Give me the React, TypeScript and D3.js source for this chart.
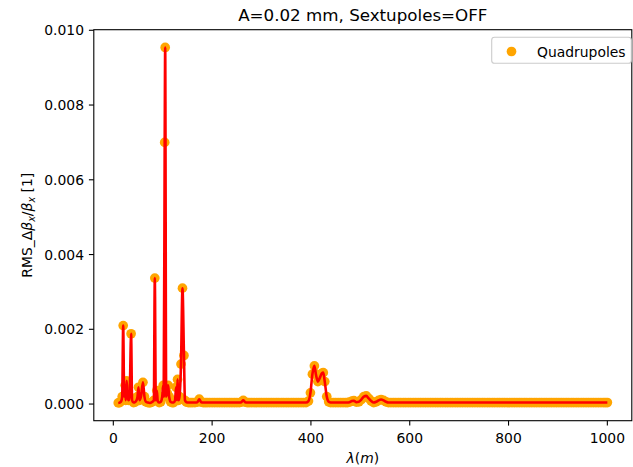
import React from "react";
import * as d3 from "d3";

const lambdas: number[] = [
  10, 13, 16, 18, 20, 22, 24, 25, 27, 29,
  31, 33, 36, 38, 41, 44, 47, 49, 51, 53,
  56, 60, 63, 66, 70, 74, 78, 82, 84, 86,
  88, 90, 93, 96, 99, 101, 102, 104, 105, 107,
  109, 111, 113, 116, 119, 122, 125, 127, 129, 130,
  132, 134, 137, 140, 143, 145, 148, 152, 156, 160,
  165, 170, 174, 178, 182, 186, 190, 195, 200, 205,
  210, 215, 220, 225, 230, 235, 240, 245, 250, 255,
  259, 263, 267, 271, 275, 280, 285, 290, 295, 300,
  305, 310, 315, 320, 325, 330, 335, 340, 345, 350,
  355, 360, 365, 370, 375, 380, 385, 390, 395, 399,
  403, 407, 410, 414, 418, 422, 425, 428, 432, 436,
  440, 445, 450, 455, 460, 465, 470, 474, 478, 483,
  487, 492, 497, 502, 507, 512, 517, 522, 527, 532,
  537, 542, 547, 552, 557, 562, 567, 572, 577, 582,
  587, 592, 597, 602, 607, 612, 617, 622, 627, 632,
  637, 642, 647, 652, 657, 662, 667, 672, 677, 682,
  687, 692, 697, 702, 707, 712, 717, 722, 727, 732,
  737, 742, 747, 752, 757, 762, 767, 772, 777, 782,
  787, 792, 797, 802, 807, 812, 817, 822, 827, 832,
  837, 842, 847, 852, 857, 862, 867, 872, 877, 882,
  887, 892, 897, 902, 907, 912, 917, 922, 927, 932,
  937, 942, 947, 952, 957, 962, 967, 972, 977, 982,
  987, 992, 996, 1000,
];

const rmsValues: number[] = [
  0.00003, 0.00004, 0.00008, 0.0002, 0.0021, 0.0002, 0.0005, 0.0001, 0.00062, 0.0002,
  0.0001, 0.0002, 0.00188, 0.0001, 0.00004, 0.00005, 0.0001, 0.0002, 0.00045, 0.0001,
  0.0002, 0.00058, 0.0002, 0.00006, 0.00004, 0.00003, 0.00005, 0.0001, 0.00337, 0.0001,
  0.00036, 0.00008, 0.00004, 0.00006, 0.0002, 0.0005, 0.0002, 0.007, 0.00954, 0.0002,
  0.0003, 0.0005, 0.0002, 0.00006, 0.00004, 0.00004, 0.0001, 0.00045, 0.0001, 0.00066,
  0.0001, 0.0002, 0.00107, 0.0031, 0.0013, 0.0001, 0.00005, 0.00004, 0.00004, 0.00004,
  0.00004, 0.00005, 0.00013, 0.00005, 0.00004, 0.00004, 0.00004, 0.00004, 0.00004, 0.00004,
  0.00004, 0.00004, 0.00004, 0.00004, 0.00004, 0.00004, 0.00004, 0.00004, 0.00004, 0.00004,
  0.00005, 0.0001, 0.00005, 0.00004, 0.00004, 0.00004, 0.00004, 0.00004, 0.00004, 0.00004,
  0.00004, 0.00004, 0.00004, 0.00004, 0.00004, 0.00004, 0.00004, 0.00004, 0.00004, 0.00004,
  0.00004, 0.00004, 0.00004, 0.00004, 0.00004, 0.00004, 0.00004, 0.00004, 0.00008, 0.0003,
  0.0008, 0.00102, 0.0008, 0.0006, 0.0007, 0.00082, 0.00084, 0.0006, 0.0002, 0.00006,
  0.00004, 0.00004, 0.00004, 0.00004, 0.00004, 0.00004, 0.00004, 0.00004, 0.00005, 0.00008,
  0.00009, 0.00005, 0.00006, 0.00012, 0.0002, 0.00022, 0.00015, 0.00008, 0.00004, 0.00006,
  0.0001, 0.00012, 0.0001, 0.00006, 0.00004, 0.00004, 0.00004, 0.00004, 0.00004, 0.00004,
  0.00004, 0.00004, 0.00004, 0.00004, 0.00004, 0.00004, 0.00004, 0.00004, 0.00004, 0.00004,
  0.00004, 0.00004, 0.00004, 0.00004, 0.00004, 0.00004, 0.00004, 0.00004, 0.00004, 0.00004,
  0.00004, 0.00004, 0.00004, 0.00004, 0.00004, 0.00004, 0.00004, 0.00004, 0.00004, 0.00004,
  0.00004, 0.00004, 0.00004, 0.00004, 0.00004, 0.00004, 0.00004, 0.00004, 0.00004, 0.00004,
  0.00004, 0.00004, 0.00004, 0.00004, 0.00004, 0.00004, 0.00004, 0.00004, 0.00004, 0.00004,
  0.00004, 0.00004, 0.00004, 0.00004, 0.00004, 0.00004, 0.00004, 0.00004, 0.00004, 0.00004,
  0.00004, 0.00004, 0.00004, 0.00004, 0.00004, 0.00004, 0.00004, 0.00004, 0.00004, 0.00004,
  0.00004, 0.00004, 0.00004, 0.00004, 0.00004, 0.00004, 0.00004, 0.00004, 0.00004, 0.00004,
  0.00004, 0.00004, 0.00004, 0.00004,
];

const xTicks: number[] = [0, 200, 400, 600, 800, 1000];
const yTicks: number[] = [0, 0.002, 0.004, 0.006, 0.008, 0.01];
const titleText = "A=0.02 mm, Sextupoles=OFF";
const legendLabel = "Quadrupoles";

const W = 633;
const H = 467;
const left = 93.8;
const right = 631.8;
const top = 29.7;
const bottom = 420.7;
const FONT = "DejaVu Sans, sans-serif";
const FS = 13.9;

export default function App() {
  const n = Math.min(lambdas.length, rmsValues.length);
  const pts = d3.range(n).map((i) => ({ x: lambdas[i], y: rmsValues[i] }));
  const [xmin, xmax] = d3.extent(pts, (d) => d.x) as [number, number];
  const [ymin, ymax] = d3.extent(pts, (d) => d.y) as [number, number];
  const xp = (xmax - xmin) * 0.05;
  const yp = (ymax - ymin) * 0.05;
  const x = d3.scaleLinear().domain([xmin - xp, xmax + xp]).range([left, right]);
  const y = d3.scaleLinear().domain([ymin - yp, ymax + yp]).range([bottom, top]);

  const line = d3
    .line<{ x: number; y: number }>()
    .x((d) => x(d.x))
    .y((d) => y(d.y))
    .curve(d3.curveMonotoneX);

  const cx = (left + right) / 2;
  const cy = (top + bottom) / 2;

  return (
    <svg
      width={W}
      height={H}
      style={{ position: "absolute", left: 0, top: 0, background: "#fff" }}
      fontFamily={FONT}
    >
      <rect x={0} y={0} width={W} height={H} fill="#fff" />
      <defs>
        <clipPath id="plotclip">
          <rect x={left} y={top} width={right - left} height={bottom - top} />
        </clipPath>
      </defs>
      <g clipPath="url(#plotclip)">
        {pts.map((d, i) => (
          <circle key={i} cx={x(d.x)} cy={y(d.y)} r={4.85} fill="#FFA500" />
        ))}
        <path d={line(pts) || ""} fill="none" stroke="#FF0000" strokeWidth={2.6} strokeLinejoin="round" />
      </g>
      <rect x={left} y={top} width={right - left} height={bottom - top} fill="none" stroke="#000" strokeWidth={1.1} />
      {xTicks.map((t) => (
        <g key={"x" + t}>
          <line x1={x(t)} x2={x(t)} y1={bottom} y2={bottom + 4.9} stroke="#000" strokeWidth={1.1} />
          <text x={x(t)} y={442.5} textAnchor="middle" fontSize={FS} fill="#000">
            {t}
          </text>
        </g>
      ))}
      {yTicks.map((t) => (
        <g key={"y" + t}>
          <line x1={left - 4.9} x2={left} y1={y(t)} y2={y(t)} stroke="#000" strokeWidth={1.1} />
          <text x={left - 9.8} y={y(t) + 5} textAnchor="end" fontSize={FS} fill="#000">
            {t.toFixed(3)}
          </text>
        </g>
      ))}
      <text x={cx} y={20.5} textAnchor="middle" fontSize={16.7} fill="#000">
        {titleText}
      </text>
      <text x={cx} y={462.5} textAnchor="middle" fontSize={FS} fill="#000">
        <tspan fontStyle="italic">λ</tspan>
        <tspan>(</tspan>
        <tspan fontStyle="italic">m</tspan>
        <tspan>)</tspan>
      </text>
      <text transform={`translate(32,${cy}) rotate(-90)`} textAnchor="middle" fontSize={FS} fill="#000">
        <tspan>RMS_Δ</tspan>
        <tspan fontStyle="italic">β</tspan>
        <tspan fontStyle="italic" fontSize={9.7} dy={3}>x</tspan>
        <tspan dy={-3}>/</tspan>
        <tspan fontStyle="italic">β</tspan>
        <tspan fontStyle="italic" fontSize={9.7} dy={3}>x</tspan>
        <tspan dy={-3}> [1]</tspan>
      </text>
      <g>
        <rect x={491.7} y={37.3} width={139.6} height={26} rx={2.8} fill="#fff" fillOpacity={0.8} stroke="#cccccc" strokeWidth={1.1} />
        <circle cx={511.5} cy={51.5} r={4.85} fill="#FFA500" />
        <text x={537} y={56.5} fontSize={FS} fill="#000">
          {legendLabel}
        </text>
      </g>
    </svg>
  );
}
